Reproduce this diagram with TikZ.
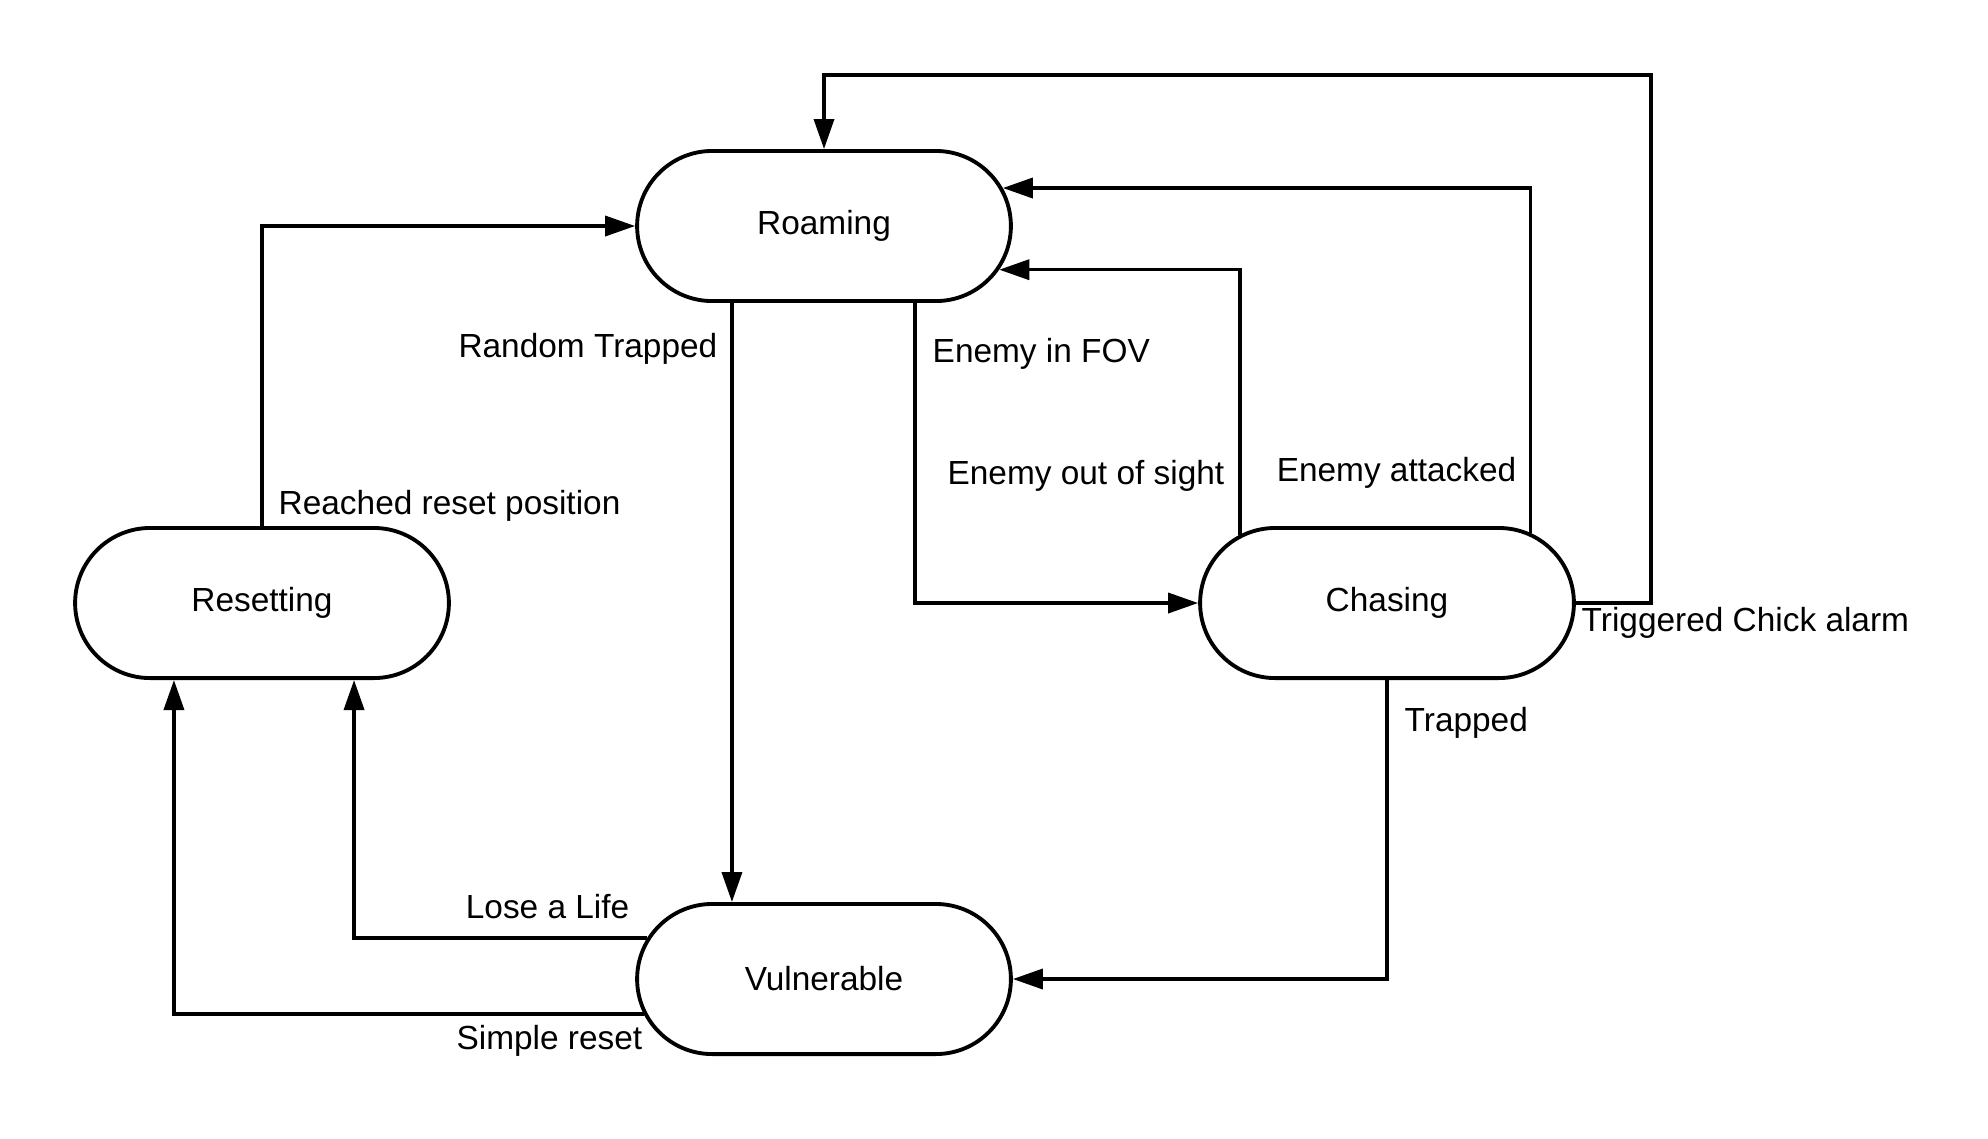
\documentclass[tikz,border=0pt]{standalone}
\usepackage{fontspec}
\setmainfont{Liberation Sans}
\usetikzlibrary{arrows.meta}
\usetikzlibrary{shapes.misc}

\tikzset{
  state/.style={rounded rectangle, draw, line width=1.1pt, fill=white,
    minimum width=3.97cm, minimum height=1.5cm, font=\fontsize{9.5}{11}\selectfont},
  trans/.style={line width=1pt, -{Triangle[length=0.3cm,width=0.2cm]}},
  lbl/.style={inner sep=0pt, font=\fontsize{9.5}{11}\selectfont}
}

\begin{document}
\begin{tikzpicture}[x=0.01cm,y=-0.01cm]
\useasboundingbox (0,0) rectangle (1988,1138);

% states
\node[state] (roaming) at (824,226) {Roaming};
\node[state] (resetting) at (262,603) {Resetting};
\node[state] (chasing) at (1387,603) {Chasing};
\node[state] (vulnerable) at (824,979) {Vulnerable};

% corner of the alarm loop
\coordinate (alarm) at (1651,75);

% transitions out of roaming
\draw[trans] ([xshift=-0.92cm]roaming.south) -- ([xshift=-0.92cm]vulnerable.north);
\draw[trans] ([xshift=0.91cm]roaming.south) |- (chasing.west);

% transitions out of chasing
\draw[trans] (chasing.155) |- (roaming.-14);
\draw[trans] (chasing.26) |- (roaming.12);
\draw[trans] (chasing.east) -| (alarm) -| (roaming.north);
\draw[trans] (chasing.south) |- (vulnerable.east);

% transitions out of vulnerable
\draw[trans] (vulnerable.167) -| ([xshift=0.92cm]resetting.south);
\draw[trans] (vulnerable.191) -| ([xshift=-0.88cm]resetting.south);

% transition out of resetting
\draw[trans] (resetting.north) |- (roaming.west);

% labels
\node[lbl, anchor=west] (reachedlbl) at (278,506) {Reached reset position};
\node[lbl, anchor=east] (randomlbl) at (718,349) {Random Trapped};
\node[lbl, anchor=west] (fovlbl) at (932,354) {Enemy in FOV};
\node[lbl, anchor=east] (sightlbl) at (1225,476) {Enemy out of sight};
\node[lbl, anchor=east] (attackedlbl) at (1517,473) {Enemy attacked};
\node[lbl, anchor=west] (alarmlbl) at (1581,623) {Triggered Chick alarm};
\node[lbl, anchor=west] (trappedlbl) at (1404,723) {Trapped};
\node[lbl, anchor=east] (lifelbl) at (630,907) {Lose a Life};
\node[lbl, anchor=east] (resetlbl) at (643,1041) {Simple reset};

\end{tikzpicture}
\end{document}
